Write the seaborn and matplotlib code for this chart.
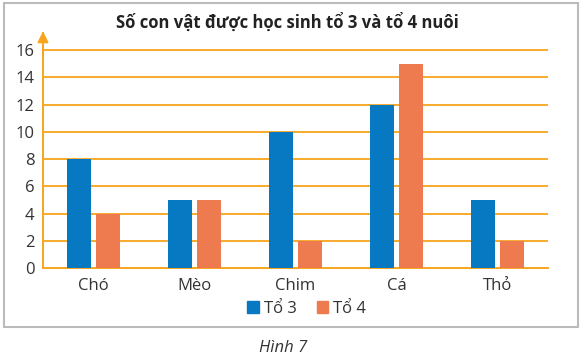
import matplotlib.pyplot as plt
import matplotlib.patches as mpatches
import pandas as pd
import seaborn as sns

animals = ["Chó", "Mèo", "Chim", "Cá", "Thỏ"]
to3 = [8, 5, 10, 12, 5]
to4 = [4, 5, 2, 15, 2]
groups = ["Tổ 3", "Tổ 4"]
yticks = [0, 2, 4, 6, 8, 10, 12, 14, 16]

ORANGE = "#F8A51C"
palette = {"Tổ 3": "#0679C2", "Tổ 4": "#EE7A50"}

df = pd.DataFrame(
    {
        "animal": animals * 2,
        "group": [groups[0]] * len(animals) + [groups[1]] * len(animals),
        "count": to3 + to4,
    }
)

sns.set_style("white")
plt.rcParams["font.family"] = ["Open Sans", "DejaVu Sans"]

fig = plt.figure(figsize=(5.84, 3.59), dpi=100)
ax = fig.add_axes([0.0736, 0.2535, 0.865, 0.654])

sns.barplot(
    data=df,
    x="animal",
    y="count",
    hue="group",
    hue_order=groups,
    order=animals,
    palette=palette,
    width=0.58,
    gap=0.18,
    saturation=1,
    linewidth=0,
    edgecolor="none",
    ax=ax,
    zorder=3,
)

ax.set_ylim(0, 17.25)
ax.set_xlim(-0.5, len(animals) - 0.5)
ax.set_yticks(yticks)
ax.set_yticklabels([str(t) for t in yticks], fontsize=12, color="#333333")
ax.tick_params(axis="y", length=4, width=1.2, color=ORANGE, pad=2)
ax.tick_params(axis="x", length=0, labelsize=12, labelcolor="#333333", pad=7)
ax.set_xlabel("")
ax.set_ylabel("")
for t in yticks[1:]:
    ax.axhline(t, color=ORANGE, lw=1.3, zorder=1)

for side in ["top", "right"]:
    ax.spines[side].set_visible(False)
ax.spines["left"].set_color(ORANGE)
ax.spines["left"].set_linewidth(1.4)
ax.spines["bottom"].set_color(ORANGE)
ax.spines["bottom"].set_linewidth(1.4)
ax.annotate(
    "",
    xy=(0, 1.02),
    xytext=(0, 0.9),
    xycoords="axes fraction",
    arrowprops=dict(arrowstyle="-|>", color=ORANGE, lw=1.4, mutation_scale=16),
)

ax.get_legend().remove()
handles = [mpatches.Patch(color=palette[g], label=g) for g in groups]
fig.legend(
    handles=handles,
    loc="center",
    bbox_to_anchor=(0.525, 0.14),
    ncol=2,
    frameon=False,
    fontsize=12,
    handlelength=0.7,
    handleheight=0.7,
    handletextpad=0.3,
    columnspacing=1.2,
    labelcolor="#333333",
)

fig.text(
    0.492, 0.939, "Số con vật được học sinh tổ 3 và tổ 4 nuôi",
    ha="center", va="center", fontsize=12, fontweight="bold", color="#222222",
)
fig.text(
    0.485, 0.03, "Hình 7",
    ha="center", va="center", fontsize=12, style="italic", color="#333333",
)

border = mpatches.Rectangle(
    (0.007, 0.088), 0.982, 0.903,
    transform=fig.transFigure, fill=False, edgecolor="#BBBBBB", lw=1.5,
)
fig.patches.append(border)

fig.savefig("out.png", dpi=100)
